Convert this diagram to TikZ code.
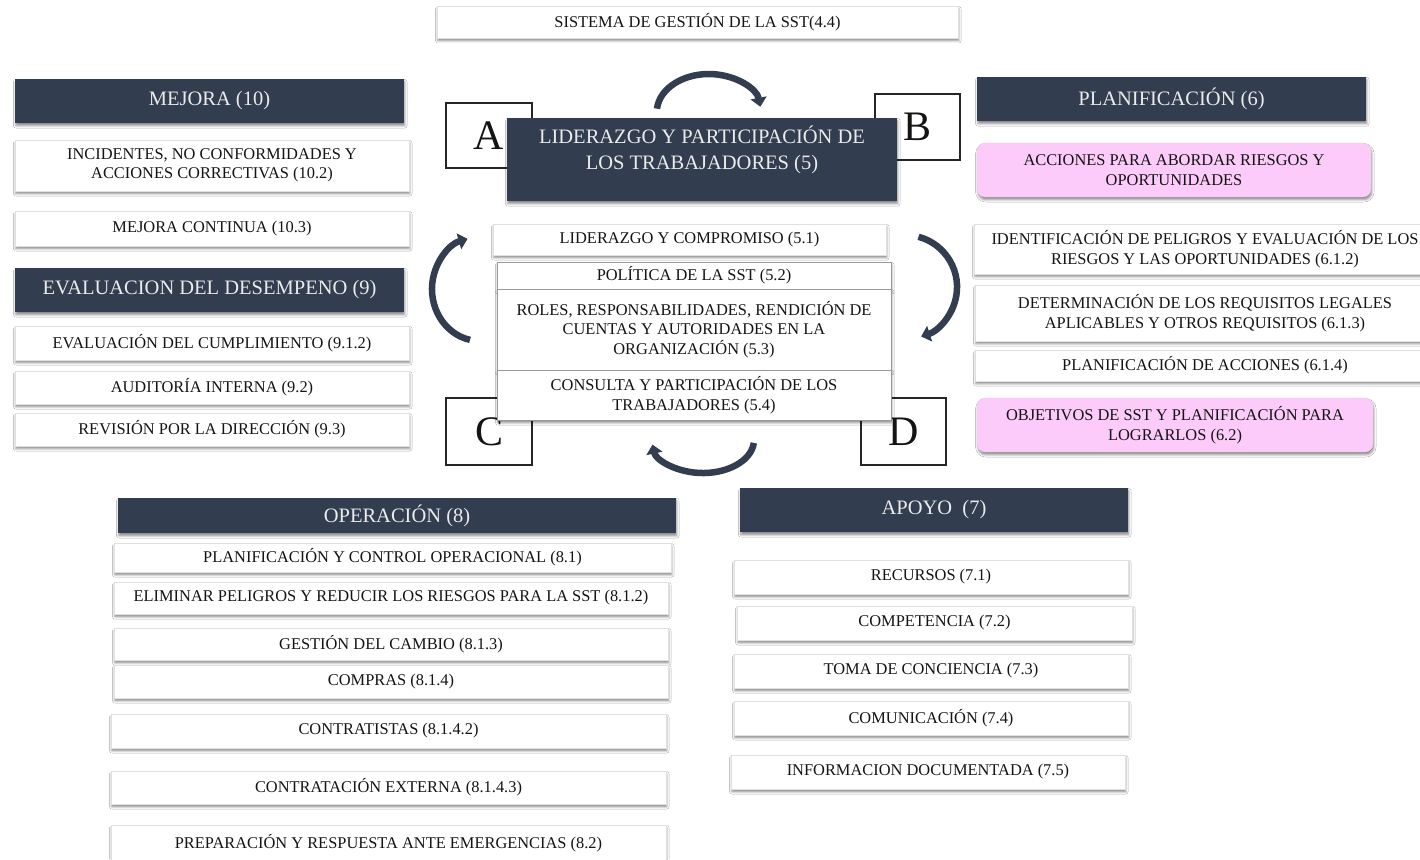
\documentclass[tikz,border=0pt]{standalone}
\usepackage{fontspec}
\setmainfont{Liberation Serif}
\usetikzlibrary{arrows.meta,shadows.blur}

\definecolor{slate}{HTML}{323D4F}
\definecolor{orchid}{HTML}{FCCBFA}
\definecolor{ink}{HTML}{141414}

\tikzset{
  softshadow/.style={blur shadow={shadow xshift=0.8pt, shadow yshift=-2.8pt,
      shadow blur radius=2.2pt, shadow opacity=45}},
  itembox/.style={draw=black!12, line width=0.3pt, fill=white, text=ink,
      font=\fontsize{16.4}{19.5}\selectfont, align=center, inner sep=0pt, softshadow},
  rowbox/.style={itembox, draw=black!40, line width=0.6pt},
  pinkbox/.style={itembox, fill=orchid, draw=orchid!80!black!60, rounded corners=8pt},
  headbox/.style={fill=slate, draw=none, text=white!92!black,
      font=\fontsize{20.5}{26}\selectfont, align=center, inner sep=0pt, softshadow},
  letterbox/.style={draw=black!85, line width=1.1pt, fill=white, text=ink,
      font=\fontsize{42}{42}\selectfont, inner sep=0pt},
  cycarrow/.style={draw=slate, line width=6.5pt,
      -{Triangle[length=9pt,width=16pt]}},
}

\begin{document}
\begin{tikzpicture}[x=1pt,y=-1pt]
\useasboundingbox (0,0) rectangle (1420,859);
\fill[white] (0,0) rectangle (1420,859);
\clip (0,0) rectangle (1420,859);

% ---- top ----
\node[itembox, minimum width=521pt, minimum height=32pt] (sgs) at (697.5,22)
  {SISTEMA DE GESTIÓN DE LA SST(4.4)};

% ---- mejora / evaluación (left) ----
\node[headbox, minimum width=389pt, minimum height=44pt] (mej) at (209.5,101) {MEJORA (10)};
\node[itembox, minimum width=394pt, minimum height=51pt] (inc) at (212,165.5)
  {INCIDENTES, NO CONFORMIDADES Y\\ACCIONES CORRECTIVAS (10.2)};
\node[itembox, minimum width=394pt, minimum height=35pt] (mcont) at (212,228.5)
  {MEJORA CONTINUA (10.3)};
\node[headbox, minimum width=389pt, minimum height=44pt] (evd) at (209.5,290)
  {EVALUACION DEL DESEMPENO (9)};
\node[itembox, minimum width=394pt, minimum height=34pt] (ecum) at (212,343)
  {EVALUACIÓN DEL CUMPLIMIENTO (9.1.2)};
\node[itembox, minimum width=394pt, minimum height=33pt] (aud) at (212,387.5)
  {AUDITORÍA INTERNA (9.2)};
\node[itembox, minimum width=394pt, minimum height=33pt] (rev) at (212,429.5)
  {REVISIÓN POR LA DIRECCIÓN (9.3)};

% ---- cycle letters ----
\node[letterbox, minimum width=86pt, minimum height=65pt] (la) at (489,135.5) {A};
\node[letterbox, minimum width=85pt, minimum height=66pt] (lb) at (917.5,127) {B};
\node[letterbox, minimum width=86pt, minimum height=67pt] (lc) at (489,431.5) {C};
\node[letterbox, minimum width=85pt, minimum height=67pt] (ld) at (903.5,431.5) {D};

% ---- liderazgo (centre) ----
\node[headbox, minimum width=390pt, minimum height=83pt] (lid) at (702,159.5) {};
\node[text=white!92!black, font=\fontsize{20.5}{26}\selectfont, align=center,
  inner sep=0pt] (lidtext) at (702,150)
  {LIDERAZGO Y PARTICIPACIÓN DE\\LOS TRABAJADORES (5)};

\node[itembox, minimum width=393pt, minimum height=31pt] (lcomp) at (689.5,239.5)
  {LIDERAZGO Y COMPROMISO (5.1)};
\node[rowbox, minimum width=394pt, minimum height=27pt] (pol) at (694,275.5)
  {POLÍTICA DE LA SST (5.2)};
\node[rowbox, minimum width=394pt, minimum height=81pt] (rol) at (694,329.5)
  {ROLES, RESPONSABILIDADES, RENDICIÓN DE\\CUENTAS Y AUTORIDADES EN LA\\ORGANIZACIÓN (5.3)};
\node[rowbox, minimum width=394pt, minimum height=50pt] (cons) at (694,395)
  {CONSULTA Y PARTICIPACIÓN DE LOS\\TRABAJADORES (5.4)};

% ---- cycle arrows (clockwise) ----
\coordinate (ctop) at (657,108.7);
\coordinate (cright) at (918.5,236.8);
\coordinate (cbot) at (753.8,442.9);
\coordinate (cleft) at (470,339.9);
\draw[cycarrow] (ctop) arc[start angle=175, end angle=8, x radius=52pt, y radius=38pt];
\draw[cycarrow] (cright) arc[start angle=75, end angle=-72, x radius=52pt, y radius=52pt];
\draw[cycarrow] (cbot) arc[start angle=-5, end angle=-172, x radius=51pt, y radius=33pt];
\draw[cycarrow] (cleft) arc[start angle=258, end angle=105, x radius=48pt, y radius=52pt];

% ---- planificación (right) ----
\node[headbox, minimum width=389pt, minimum height=44pt] (plan) at (1171.5,99) {PLANIFICACIÓN (6)};
\node[pinkbox, minimum width=394pt, minimum height=54pt] (acc) at (1174,170)
  {ACCIONES PARA ABORDAR RIESGOS Y\\OPORTUNIDADES};
\node[itembox, minimum width=462pt, minimum height=50pt] (ident) at (1205,249)
  {IDENTIFICACIÓN DE PELIGROS Y EVALUACIÓN DE LOS\\RIESGOS Y LAS OPORTUNIDADES (6.1.2)};
\node[itembox, minimum width=460pt, minimum height=56pt] (deter) at (1205,313)
  {DETERMINACIÓN DE LOS REQUISITOS LEGALES\\APLICABLES Y OTROS REQUISITOS (6.1.3)};
\node[itembox, minimum width=460pt, minimum height=31pt] (placc) at (1205,365.5)
  {PLANIFICACIÓN DE ACCIONES (6.1.4)};
\node[pinkbox, minimum width=396pt, minimum height=54pt] (obj) at (1175,425)
  {OBJETIVOS DE SST Y PLANIFICACIÓN PARA\\LOGRARLOS (6.2)};

% ---- operación (bottom left) ----
\node[headbox, minimum width=558pt, minimum height=35pt] (op) at (397,515.5) {OPERACIÓN (8)};
\node[itembox, minimum width=557pt, minimum height=29pt] (pco) at (392.5,557.5)
  {PLANIFICACIÓN Y CONTROL OPERACIONAL (8.1)};
\node[itembox, minimum width=554pt, minimum height=32pt] (elim) at (391,598)
  {ELIMINAR PELIGROS Y REDUCIR LOS RIESGOS PARA LA SST (8.1.2)};
\node[itembox, minimum width=554pt, minimum height=32pt] (gcam) at (391,644)
  {GESTIÓN DEL CAMBIO (8.1.3)};
\node[itembox, minimum width=554pt, minimum height=33pt] (comp) at (391,681.5)
  {COMPRAS (8.1.4)};
\node[itembox, minimum width=555pt, minimum height=34pt] (contr) at (388.5,731)
  {CONTRATISTAS (8.1.4.2)};
\node[itembox, minimum width=555pt, minimum height=33pt] (cext) at (388.5,787.5)
  {CONTRATACIÓN EXTERNA (8.1.4.3)};
\node[itembox, minimum width=555pt, minimum height=36pt] (prep) at (388.5,843)
  {PREPARACIÓN Y RESPUESTA ANTE EMERGENCIAS (8.2)};

% ---- apoyo (bottom right) ----
\node[headbox, minimum width=388pt, minimum height=44pt] (apo) at (934,510) {APOYO~~(7)};
\node[itembox, minimum width=394pt, minimum height=34pt] (rec) at (931,577)
  {RECURSOS (7.1)};
\node[itembox, minimum width=395pt, minimum height=34pt] (compt) at (934.5,623)
  {COMPETENCIA (7.2)};
\node[itembox, minimum width=394pt, minimum height=34pt] (toma) at (931,671)
  {TOMA DE CONCIENCIA (7.3)};
\node[itembox, minimum width=394pt, minimum height=34pt] (comu) at (931,718)
  {COMUNICACIÓN (7.4)};
\node[itembox, minimum width=394pt, minimum height=34pt] (info) at (928,772)
  {INFORMACION DOCUMENTADA (7.5)};
\end{tikzpicture}
\end{document}
